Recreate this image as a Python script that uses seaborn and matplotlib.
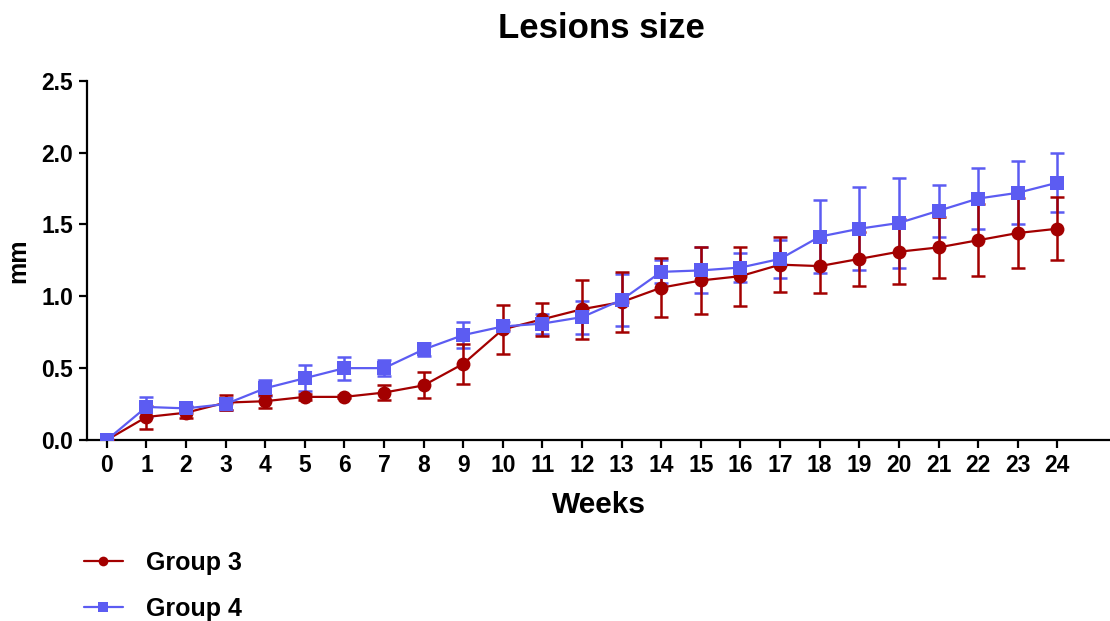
import numpy as np
import pandas as pd
import matplotlib
matplotlib.use("Agg")
import matplotlib.pyplot as plt
import seaborn as sns

weeks = list(range(25))
g3_mean = [0.00, 0.16, 0.19, 0.26, 0.27, 0.30, 0.30, 0.33, 0.38, 0.53, 0.77, 0.84, 0.91,
           0.96, 1.06, 1.11, 1.14, 1.22, 1.21, 1.26, 1.31, 1.34, 1.39, 1.44, 1.47]
g3_err = [0.00, 0.08, 0.04, 0.05, 0.045, 0.02, 0.01, 0.05, 0.09, 0.14, 0.17, 0.115, 0.205,
          0.21, 0.205, 0.23, 0.205, 0.19, 0.185, 0.19, 0.225, 0.21, 0.25, 0.245, 0.22]
g4_mean = [0.00, 0.23, 0.22, 0.25, 0.36, 0.43, 0.50, 0.50, 0.63, 0.73, 0.79, 0.81, 0.855,
           0.975, 1.17, 1.18, 1.20, 1.26, 1.415, 1.47, 1.51, 1.595, 1.68, 1.72, 1.79]
g4_err = [0.00, 0.07, 0.02, 0.04, 0.055, 0.09, 0.08, 0.055, 0.047, 0.09, 0.03, 0.07, 0.115,
          0.18, 0.08, 0.16, 0.10, 0.13, 0.255, 0.29, 0.315, 0.18, 0.21, 0.22, 0.205]
groups = ["Group 3", "Group 4"]
colors = {"Group 3": "#A30000", "Group 4": "#5C5CF2"}
markers = {"Group 3": "o", "Group 4": "s"}
y_ticks = [0.0, 0.5, 1.0, 1.5, 2.0, 2.5]

df = pd.DataFrame({
    "Weeks": weeks * 2,
    "mm": g3_mean + g4_mean,
    "err": g3_err + g4_err,
    "Group": ["Group 3"] * 25 + ["Group 4"] * 25,
})

sns.set_style("ticks")
plt.rcParams["font.family"] = ["Liberation Sans", "DejaVu Sans"]
plt.rcParams["font.weight"] = "bold"
plt.rcParams["text.color"] = "black"
plt.rcParams["axes.labelcolor"] = "black"

fig = plt.figure(figsize=(11.1, 6.21), dpi=100)
ax = fig.add_axes([87 / 1110, 1 - 440 / 621, 1 - 87 / 1110, (440 - 80.7) / 621])

for g in ["Group 4", "Group 3"]:
    sub = df[df["Group"] == g]
    ax.errorbar(sub["Weeks"], sub["mm"], yerr=sub["err"], fmt="none",
                ecolor=colors[g], elinewidth=1.8, capsize=5, capthick=1.8,
                zorder=2 if g == "Group 4" else 4)

sns.lineplot(data=df, x="Weeks", y="mm", hue="Group", style="Group",
             hue_order=groups, style_order=groups,
             palette=colors, markers=markers, dashes=False,
             linewidth=1.6, markersize=10, markeredgewidth=0,
             ax=ax, legend=True, zorder=5)

ax.set_xlim(-0.5, 25.33)
ax.set_ylim(0, 2.5)
ax.set_xticks(weeks)
ax.set_xticklabels([str(w) for w in weeks])
ax.set_yticks(y_ticks)
ax.set_yticklabels([f"{v:.1f}" for v in y_ticks])
for s in ["top", "right"]:
    ax.spines[s].set_visible(False)
for s in ["left", "bottom"]:
    ax.spines[s].set_linewidth(1.6)
    ax.spines[s].set_color("black")
ax.tick_params(axis="both", length=6, width=1.6, labelsize=16.5, colors="black", pad=4)
for lab in ax.get_xticklabels() + ax.get_yticklabels():
    lab.set_fontweight("bold")

ax.set_xlabel("Weeks", fontsize=21.5, fontweight="bold", labelpad=10, color="black")
ax.set_ylabel("mm", fontsize=18, fontweight="bold", labelpad=8, color="black")
fig.text(0.542, 1 - 29 / 621, "Lesions size", ha="center", va="center",
         fontsize=25, fontweight="bold", color="black")

handles, labels = ax.get_legend_handles_labels()
ax.get_legend().remove()
leg = fig.legend(handles, labels, loc="upper left",
                 bbox_to_anchor=(74 / 1110, 1 - 541 / 621), frameon=False,
                 prop={"size": 18, "weight": "bold"}, handlelength=1.55,
                 handletextpad=0.95, labelspacing=0.88, markerscale=0.7,
                 borderaxespad=0, borderpad=0.4)
for t in leg.get_texts():
    t.set_color("black")

fig.savefig("out.png", dpi=100)
